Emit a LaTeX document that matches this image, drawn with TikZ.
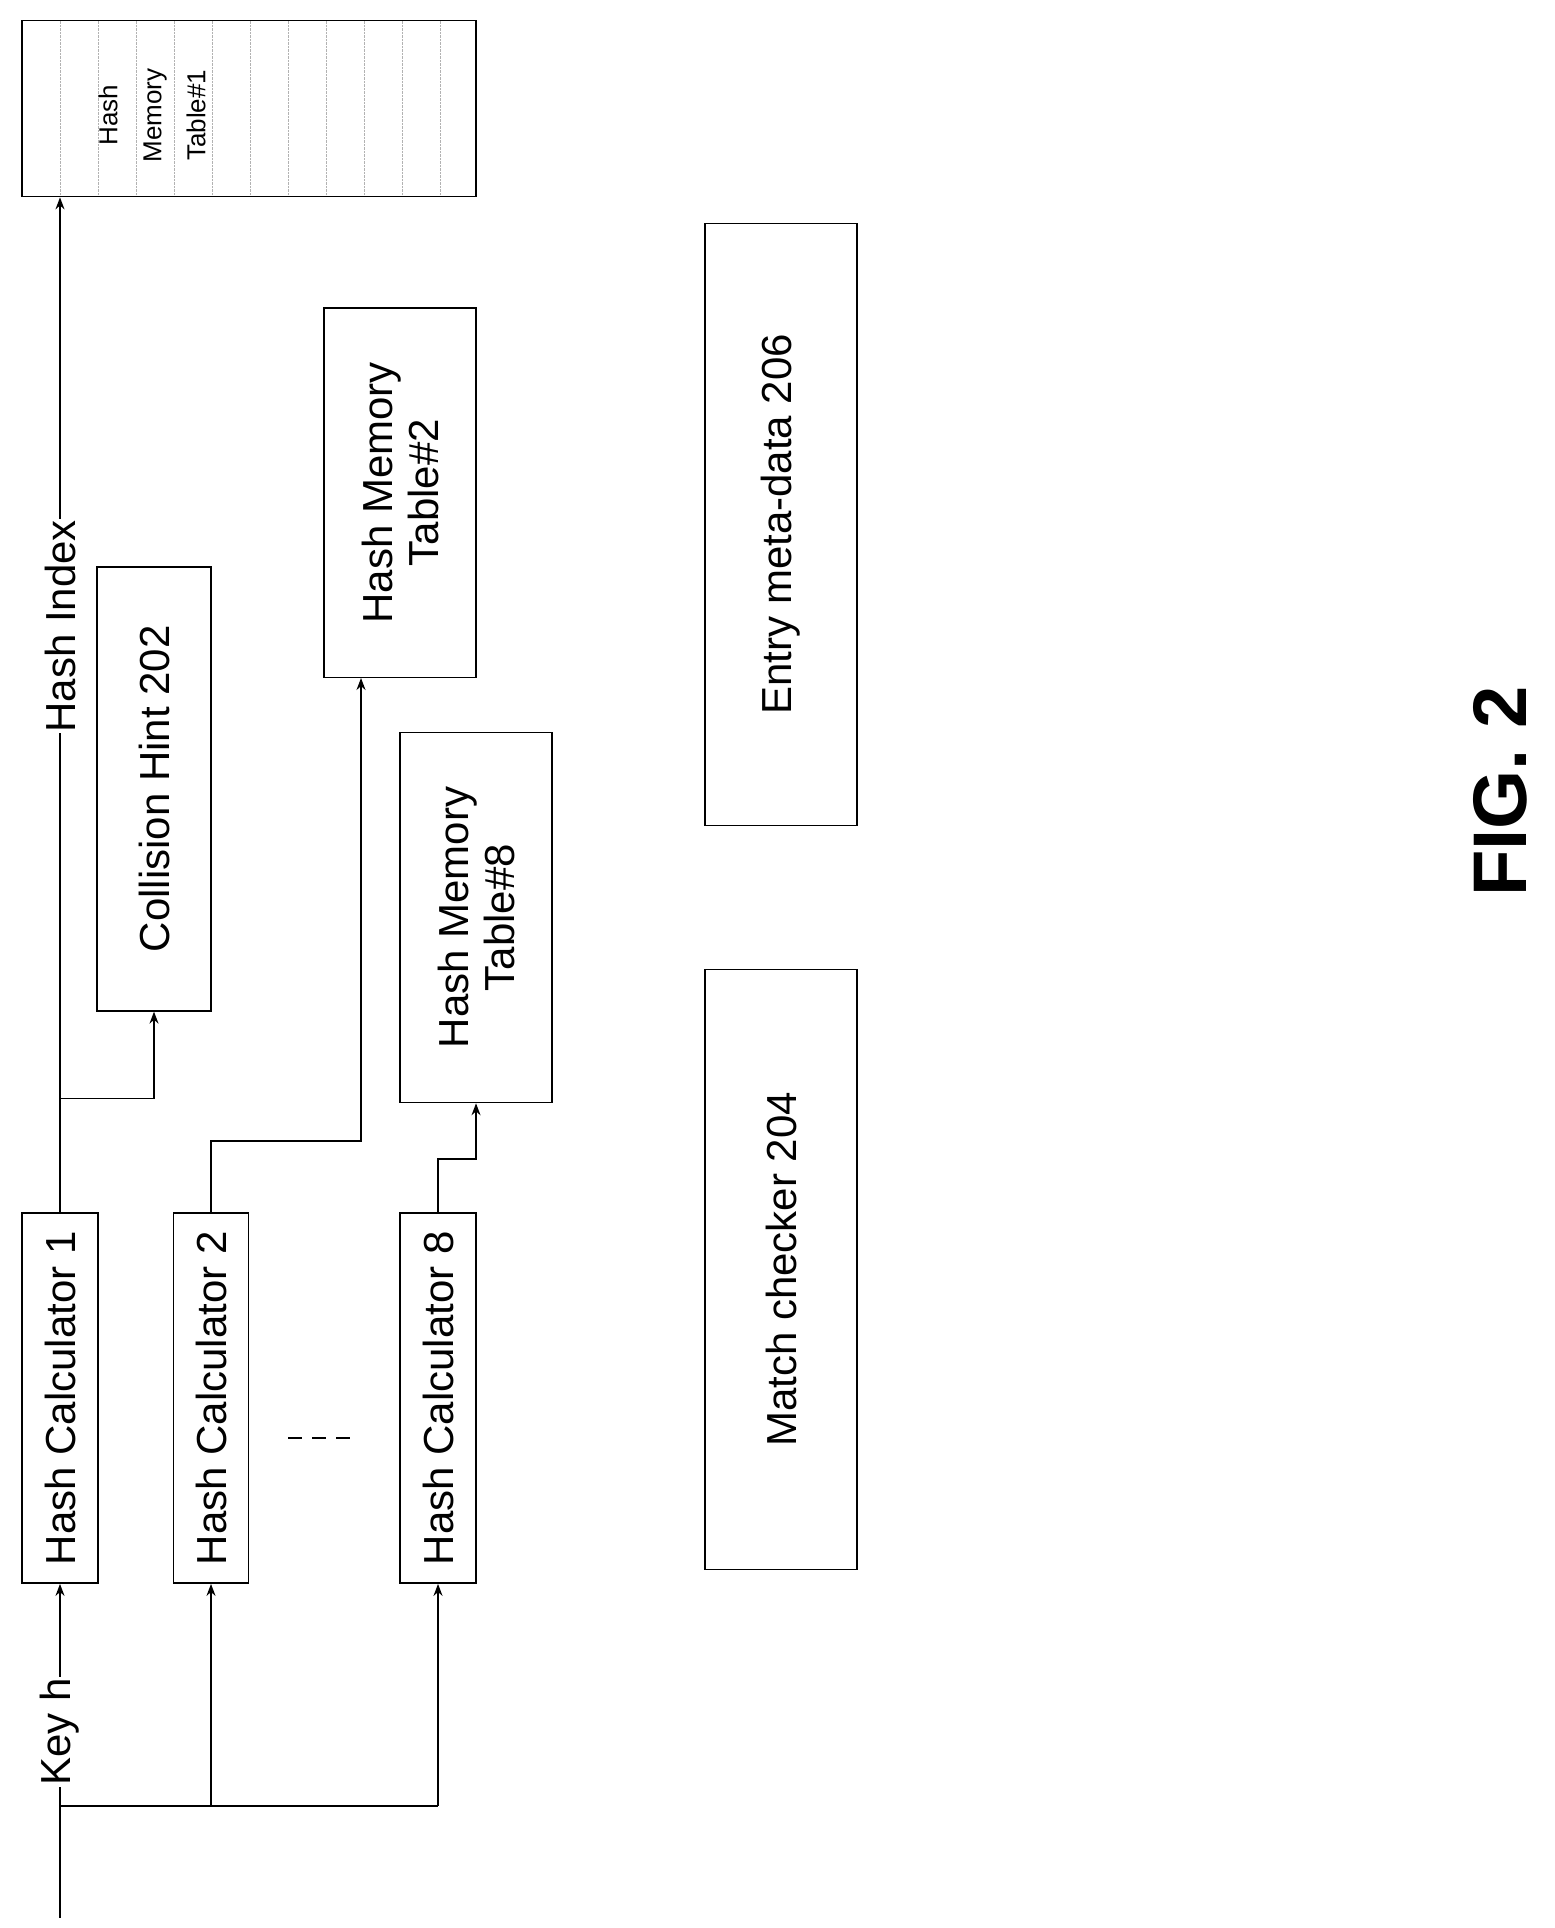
\documentclass[tikz,border=0pt]{standalone}
\usepackage{fontspec}
\setmainfont{Liberation Sans}
\usetikzlibrary{arrows.meta}
\begin{document}
\begin{tikzpicture}[x=1pt,y=1.2136pt,
 bx/.style={draw,line width=1.5pt,inner sep=0pt},
 t/.style={rotate=90,font=\fontsize{42}{46}\selectfont,align=center},
 ar/.style={line width=1.5pt,-{Stealth[length=12pt,width=9pt]}},
 ln/.style={line width=1.5pt}]
\useasboundingbox (0,0) rectangle (1554,-1588.6);
% boxes
\node[bx,minimum width=76pt,minimum height=370pt] (hc1) at (60,-1152) {};
\node[t] at (hc1) {Hash Calculator 1};
\node[bx,minimum width=75pt,minimum height=370pt] (hc2) at (211,-1152) {};
\node[t] at (hc2) {Hash Calculator 2};
\node[bx,minimum width=76pt,minimum height=370pt] (hc8) at (438,-1152) {};
\node[t] at (hc8) {Hash Calculator 8};
\node[bx,minimum width=114pt,minimum height=444pt] (ch) at (154,-650) {};
\node[t] at (ch) {Collision Hint 202};
\node[bx,minimum width=152pt,minimum height=369pt] (h2) at (400,-406) {};
\node[t] at (h2) {Hash Memory\\Table\#2};
\node[bx,minimum width=152pt,minimum height=370pt] (h8) at (476,-756) {};
\node[t] at (h8) {Hash Memory\\Table\#8};
\node[bx,minimum width=152pt,minimum height=602pt] (em) at (781,-432) {};
\node[t] at (em) {Entry meta-data 206};
\node[bx,minimum width=152pt,minimum height=600pt] (mc) at (781,-1046) {};
\node[t] at (mc) {Match checker 204};
% HMT1
\foreach \xx in {60,98,136,174,212,250,288,326,364,402,440}
  \draw[gray!60,densely dotted] (\xx,-17) -- (\xx,-162);
\node[bx,minimum width=454pt,minimum height=176pt] (h1) at (249,-89.5) {};
\node[rotate=90,font=\fontsize{26}{44}\selectfont,align=center] at (152,-95) {Hash\\Memory\\Table\#1};
% inputs
\coordinate (in) at (60,-1580);
\coordinate (b1) at (60,-1488);
\coordinate (b2) at (211,-1488);
\coordinate (b8) at (438,-1488);
\draw[ln] (in) -- (b1) -- (b8);
\draw[ar] (b1) -- (hc1.south);
\draw[ar] (b2) -- (hc2.south);
\draw[ar] (b8) -- (hc8.south);
\node[t,fill=white,inner sep=1pt] at (60,-1427) {Key h};
% outputs
\draw[ar] (hc1.north) -- (h1.south -| hc1.north);
\node[t,fill=white,inner sep=1pt] at (60,-516) {Hash Index};
\coordinate (j1) at (60,-905);
\draw[ar] (j1) -| (ch.south);
\draw[ar] (hc2.north) |- (361,-940) -- (h2.south -| 361,0);
\draw[ar] (hc8.north) |- (476,-955) -- (h8.south);
\draw[ln,dash pattern=on 14pt off 10pt] (288,-1185) -- (352,-1185);
\node[rotate=90,font=\fontsize{76}{84}\selectfont\bfseries] (fig) at (1500,-652) {FIG. 2};
\end{tikzpicture}
\end{document}
